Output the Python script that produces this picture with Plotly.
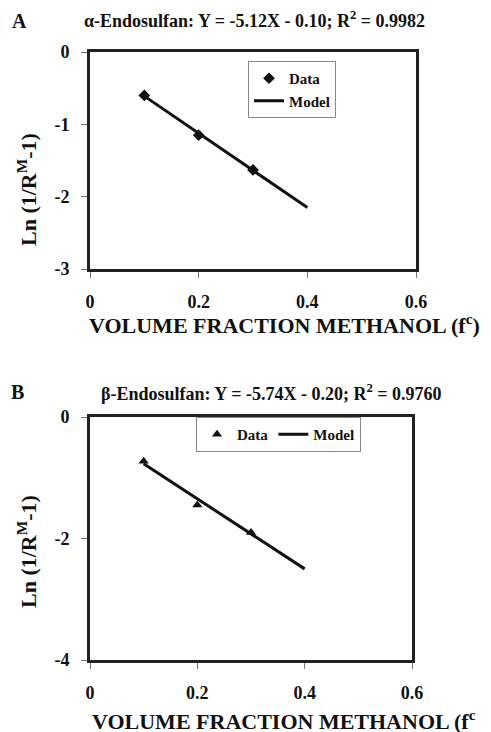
import plotly.graph_objects as go

# ---- data ----
frac_data = [0.1, 0.2, 0.3]
alpha_data = [-0.60, -1.15, -1.63]
beta_data = [-0.73, -1.45, -1.90]
frac_model = [0.1, 0.4]
alpha_model = [-0.61, -2.15]
beta_model = [-0.77, -2.50]
x_ticks = [0, 0.2, 0.4, 0.6]
x_tick_labels = ["0", "0.2", "0.4", "0.6"]
ya_ticks = [0, -1, -2, -3]
ya_tick_labels = ["0", "-1", "-2", "-3"]
yb_ticks = [0, -2, -4]
yb_tick_labels = ["0", "-2", "-4"]
title_a = "α-Endosulfan: Y = -5.12X - 0.10; R<sup>2</sup> = 0.9982"
title_b = "β-Endosulfan: Y = -5.74X - 0.20; R<sup>2</sup> = 0.9760"
xtitle_a = "VOLUME FRACTION METHANOL (f<sup>c</sup>)"
xtitle_b = "VOLUME FRACTION METHANOL (f<sup>c</sup>"
ytitle = "Ln (1/R<sup>M</sup>-1)"

# the page body has an 8px margin; the figure fills the rest of the window
OFF = 8
W, H = 491 - OFF, 732 - OFF
FONT = "Liberation Serif"

def px(x):
    return (x - OFF) / W

def py(y):
    return 1 - (y - OFF) / H

fig = go.Figure()

fig.add_trace(go.Scatter(x=frac_data, y=alpha_data, mode="markers", name="Data",
                         marker=dict(symbol="diamond", size=9, color="#111"),
                         xaxis="x", yaxis="y", legend="legend"))
fig.add_trace(go.Scatter(x=frac_model, y=alpha_model, mode="lines", name="Model",
                         line=dict(color="#111", width=3),
                         xaxis="x", yaxis="y", legend="legend"))
fig.add_trace(go.Scatter(x=frac_data, y=beta_data, mode="markers", name="Data",
                         marker=dict(symbol="triangle-up", size=9, color="#111"),
                         xaxis="x2", yaxis="y2", legend="legend2"))
fig.add_trace(go.Scatter(x=frac_model, y=beta_model, mode="lines", name="Model",
                         line=dict(color="#111", width=3),
                         xaxis="x2", yaxis="y2", legend="legend2"))

tickfont = dict(family=FONT, size=18, color="#111", weight="bold")

def xaxis(domain, anchor):
    return dict(domain=domain, anchor=anchor, range=[0, 0.6], tickvals=x_ticks,
                ticktext=x_tick_labels, showline=True, linewidth=3, linecolor="#222",
                mirror=True, ticks="outside", ticklen=6, tickcolor="#777", tickwidth=1,
                showgrid=False, zeroline=False, tickfont=tickfont, ticklabelstandoff=8,
                automargin=False)

def yaxis(domain, anchor, rng, vals, labels):
    return dict(domain=domain, anchor=anchor, range=rng, tickvals=vals, ticktext=labels,
                showline=True, linewidth=3, linecolor="#222",
                mirror=True, ticks="outside", ticklen=6, tickcolor="#777", tickwidth=1,
                showgrid=False, zeroline=False, tickfont=tickfont, ticklabelstandoff=8,
                automargin=False)

fig.update_layout(
    width=W, height=H, margin=dict(l=0, r=0, t=0, b=0, pad=0, autoexpand=False),
    autosize=False,
    paper_bgcolor="white", plot_bgcolor="white",
    font=dict(family=FONT, color="#111"),
    xaxis=xaxis([px(90), px(416)], "y"),
    yaxis=yaxis([py(269), py(52)], "x", [-3, 0], ya_ticks, ya_tick_labels),
    xaxis2=xaxis([px(90), px(412)], "y2"),
    yaxis2=yaxis([py(660), py(417)], "x2", [-4, 0], yb_ticks, yb_tick_labels),
    legend=dict(x=px(248), y=py(61), xanchor="left", yanchor="top",
                orientation="v", bgcolor="white", bordercolor="#888", borderwidth=1,
                font=dict(family=FONT, size=15, color="#111", weight="bold"),
                itemwidth=30, tracegroupgap=0),
    legend2=dict(x=px(196), y=py(417), xanchor="left", yanchor="top",
                 orientation="h", bgcolor="white", bordercolor="#888", borderwidth=1,
                 font=dict(family=FONT, size=15, color="#111", weight="bold"),
                 itemwidth=30),
    showlegend=True,
)

ann = []
def add(text, x, y, size, xanchor="left", textangle=0, yanchor="middle"):
    ann.append(dict(text=text, x=px(x), y=py(y), xref="paper", yref="paper",
                    showarrow=False, xanchor=xanchor, yanchor=yanchor, textangle=textangle,
                    font=dict(family=FONT, size=size, color="#111", weight="bold")))

add("A", 10, 21, 20)
add(title_a, 82, 20, 18)
add("B", 9, 392, 20)
add(title_b, 99, 392, 18)
add(xtitle_a, 87, 324, 22)
add(xtitle_b, 90, 720, 22)
add(ytitle, 27, 190, 22, xanchor="center", textangle=-90)
add(ytitle, 27, 552, 22, xanchor="center", textangle=-90)
fig.update_layout(annotations=ann)

fig.write_html("out.html")
